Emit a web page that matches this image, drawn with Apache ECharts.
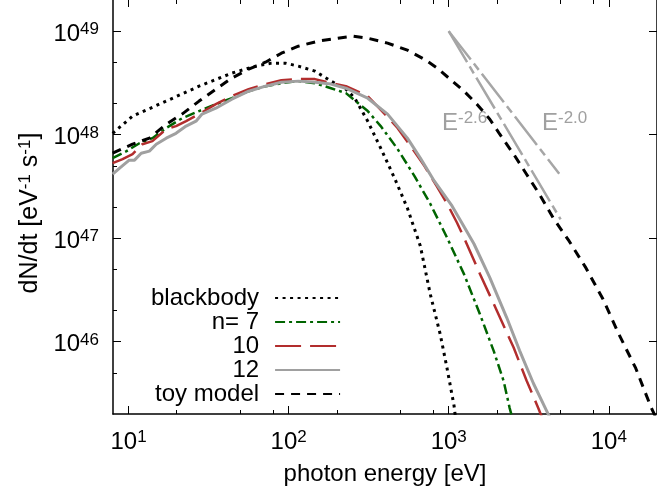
<!DOCTYPE html>
<html><head><meta charset="utf-8">
<script src="https://cdn.jsdelivr.net/npm/echarts@6/dist/echarts.min.js"></script>
<style>html,body{margin:0;padding:0;background:#fff}#c{width:657px;height:494px}</style>
</head><body><div id="c"></div>
<script>
const FONT = 'Liberation Sans, Arial, Helvetica, sans-serif';
const xRange = [8, 20000];
const yRange = [2e45, 2e49];
const xMajorTicks = [10, 100, 1000, 10000];
const xMinorTicks = [20, 50, 80, 200, 500, 800, 2000, 5000, 8000];
const yMajorTicks = [1e46, 1e47, 1e48, 1e49];
const yMinorTicks = [5e45, 2e46, 5e46, 2e47, 5e47, 2e48, 5e48];
const legendNames = ['blackbody', 'n= 7', '10', '12', 'toy model'];

const blackbody = [[7.96,1.03e48],[10.6,1.51e48],[17.2,2.11e48],[27.6,2.94e48],[44.2,3.93e48],[62.2,4.59e48],[78.2,4.91e48],[95.5,4.91e48],[115,4.59e48],[146,4.11e48],[184,3.29e48],[228,2.75e48],[259,2.25e48],[312,1.35e48],[376,7.41e47],[459,3.80e47],[552,1.95e47],[665,8.4e46],[767,2.88e46],[885,1.18e46],[977,5.5e45],[1080,2.4e45],[1110,1.7e45]];
const n7 = [[7.96,5.93e47],[9.72,6.93e47],[11.7,8.27e47],[14.1,9.25e47],[17.2,1.16e48],[21.6,1.44e48],[27.6,1.69e48],[35.1,1.97e48],[44.2,2.25e48],[56.3,2.63e48],[71.7,2.94e48],[90.1,3.14e48],[115,3.29e48],[146,3.14e48],[184,2.81e48],[228,2.52e48],[312,1.69e48],[376,1.21e48],[479,7.28e47],[610,4.0e47],[767,2.15e47],[977,1.01e47],[1246,4.49e46],[1565,1.85e46],[1912,8.09e45],[2205,4.15e45],[2403,2.28e45],[2480,1.9e45]];
const n10 = [[7.96,5.31e47],[9.18,5.80e47],[10.6,6.48e47],[12.2,8.09e47],[14.1,8.65e47],[17.2,1.13e48],[19.8,1.21e48],[22.9,1.35e48],[27.6,1.58e48],[35.1,1.97e48],[44.2,2.36e48],[56.3,2.75e48],[71.7,3.08e48],[90.1,3.36e48],[115,3.44e48],[146,3.44e48],[184,3.14e48],[228,2.94e48],[312,2.36e48],[415,1.48e48],[479,1.16e48],[577,7.78e47],[704,4.99e47],[847,3.13e47],[977,2.15e47],[1127,1.41e47],[1246,1.01e47],[1565,4.54e46],[1996,2.00e46],[2544,8.77e45],[3063,4.22e45],[3635,2.26e45],[3800,1.9e45]];
const n12 = [[7.96,4.15e47],[8.80,4.75e47],[10.1,5.67e47],[10.9,5.67e47],[12.0,6.62e47],[13.5,6.93e47],[14.9,8.09e47],[17.2,9.25e47],[19.8,1.03e48],[22.9,1.21e48],[26.4,1.35e48],[28.8,1.58e48],[35.1,1.80e48],[44.2,2.20e48],[56.3,2.63e48],[71.7,2.94e48],[90.1,3.21e48],[115,3.29e48],[146,3.21e48],[184,3.08e48],[228,2.81e48],[312,2.25e48],[415,1.58e48],[552,9.25e47],[665,5.93e47],[812,3.57e47],[1049,2.05e47],[1227,1.35e47],[1437,8.83e46],[1806,4.15e46],[2302,1.71e46],[2772,8.2e45],[3384,3.94e45],[4075,2.17e45],[4375,1.73e45]];
const toyModel = [[7.96,6.62e47],[10.6,8.09e47],[13.5,9.25e47],[17.2,1.26e48],[21.6,1.58e48],[27.6,2.11e48],[35.1,2.75e48],[44.2,3.52e48],[56.3,4.30e48],[71.7,5.01e48],[90.1,6.12e48],[115,7.16e48],[153,8.0e48],[203,8.56e48],[252,8.95e48],[312,8.56e48],[415,7.66e48],[552,6.55e48],[704,5.36e48],[847,4.40e48],[1020,3.44e48],[1246,2.63e48],[1500,1.97e48],[1806,1.41e48],[2084,1.01e48],[2544,6.48e47],[3063,4.15e47],[3686,2.66e47],[4501,1.56e47],[5658,9.35e46],[7211,5.13e46],[9191,2.58e46],[11560,1.18e46],[14730,5.54e45],[18240,2.38e45],[20000,1.75e45]];
const slope26 = [[1000,1e49],[5000,1.52e47]];
const slope20 = [[1000,1e49],[4900,4.2e47]];

const rich = {
  b: {fontSize: 24, fontFamily: FONT, color: '#000', lineHeight: 26},
  s: {fontSize: 17, fontFamily: FONT, color: '#000', verticalAlign: 'top', lineHeight: 18}
};
function powFmt(v) {
  const l = Math.log10(v), e = Math.round(l);
  if (Math.abs(l - e) > 0.01) return '';
  return '{b|10}{s|' + e + '}';
}
function axisCommon(range) {
  return {type: 'log', logBase: 10, min: range[0], max: range[1], splitLine: {show: false}, minorTick: {show: false}};
}
const tickLine = {color: '#000', width: 1};
const xAxes = [
  Object.assign(axisCommon(xRange), {position: 'bottom',
    axisLine: {show: true, lineStyle: {color: '#000', width: 1.5}},
    axisTick: {show: true, inside: true, length: 8, customValues: xMajorTicks, lineStyle: tickLine},
    axisLabel: {show: true, customValues: xMajorTicks, formatter: powFmt, rich: rich, margin: 15},
    name: 'photon energy [eV]', nameLocation: 'middle', nameGap: 48,
    nameTextStyle: {fontSize: 24, fontFamily: FONT, color: '#000'}}),
  Object.assign(axisCommon(xRange), {position: 'bottom', axisLine: {show: false},
    axisTick: {show: true, inside: true, length: 4, customValues: xMinorTicks, lineStyle: tickLine},
    axisLabel: {show: false}}),
  Object.assign(axisCommon(xRange), {position: 'top', axisLine: {show: false},
    axisTick: {show: true, inside: true, length: 7, customValues: xMajorTicks, lineStyle: tickLine},
    axisLabel: {show: false}}),
  Object.assign(axisCommon(xRange), {position: 'top', axisLine: {show: false},
    axisTick: {show: true, inside: true, length: 4, customValues: xMinorTicks, lineStyle: tickLine},
    axisLabel: {show: false}})
];
const yAxes = [
  Object.assign(axisCommon(yRange), {position: 'left',
    axisLine: {show: true, lineStyle: {color: '#000', width: 1.5}},
    axisTick: {show: true, inside: true, length: 8, customValues: yMajorTicks, lineStyle: tickLine},
    axisLabel: {show: true, customValues: yMajorTicks, formatter: powFmt, rich: rich, margin: 14, padding: [6, 0, 0, 0]},
    name: '{n|dN/dt [eV}{t|-1}{n| s}{t|-1}{n|]}', nameLocation: 'middle', nameGap: 58, nameRotate: 90,
    nameTextStyle: {padding: [0, 12, 0, 0], rich: {n: {fontSize: 25, fontFamily: FONT, color: '#000', lineHeight: 27}, t: {fontSize: 17, fontFamily: FONT, color: '#000', verticalAlign: 'top', lineHeight: 18}}}}),
  Object.assign(axisCommon(yRange), {position: 'left', axisLine: {show: false},
    axisTick: {show: true, inside: true, length: 4, customValues: yMinorTicks, lineStyle: tickLine},
    axisLabel: {show: false}}),
  Object.assign(axisCommon(yRange), {position: 'right', axisLine: {show: true, lineStyle: {color: '#000', width: 1.5}},
    axisTick: {show: true, inside: true, length: 8, customValues: yMajorTicks, lineStyle: tickLine},
    axisLabel: {show: false}})
];
function lineSeries(name, data, color, width, type) {
  return {name: name, type: 'line', data: data, xAxisIndex: 0, yAxisIndex: 0, symbol: 'none', showSymbol: false,
    color: color, lineStyle: {color: color, width: width, type: type}, clip: true, silent: true};
}
const supRich = {b: {fontSize: 24, fontFamily: FONT, fill: '#a0a0a0', lineHeight: 26}, s: {fontSize: 17, fontFamily: FONT, fill: '#a0a0a0', verticalAlign: 'top', lineHeight: 18}};
const chart = echarts.init(document.getElementById('c'), null, {renderer: 'canvas'});
chart.setOption({
  animation: false,
  backgroundColor: '#fff',
  textStyle: {fontFamily: FONT},
  grid: {left: 113, top: -1, width: 549, height: 415, containLabel: false},
  xAxis: xAxes,
  yAxis: yAxes,
  legend: {data: legendNames, orient: 'vertical', align: 'right', left: 151, top: 286, padding: 0, itemGap: 0,
    itemWidth: 65, itemHeight: 14, selectedMode: false,
    itemStyle: {opacity: 0, borderWidth: 0},
    textStyle: {fontSize: 24, fontFamily: FONT, color: '#000', lineHeight: 24, padding: [0, 11, 0, 0]}},
  graphic: [
    {type: 'text', left: 442, top: 110, style: {text: '{b|E}{s|-2.6}', rich: supRich}},
    {type: 'text', left: 542, top: 110, style: {text: '{b|E}{s|-2.0}', rich: supRich}}
  ],
  series: [
    lineSeries('E^-2.6', slope26, '#a6a6a6', 2.5, [36, 5, 8, 5]),
    lineSeries('E^-2.0', slope20, '#a6a6a6', 2.5, [36, 5, 8, 5]),
    lineSeries('blackbody', blackbody, '#000000', 3, [3, 4.5]),
    lineSeries('n= 7', n7, '#006400', 2.5, [10, 4, 3, 4]),
    lineSeries('10', n10, '#b22d2d', 2.5, [26, 9]),
    lineSeries('12', n12, '#a0a0a0', 3, 'solid'),
    lineSeries('toy model', toyModel, '#000000', 3, [9, 7])
  ]
});
</script></body></html>
